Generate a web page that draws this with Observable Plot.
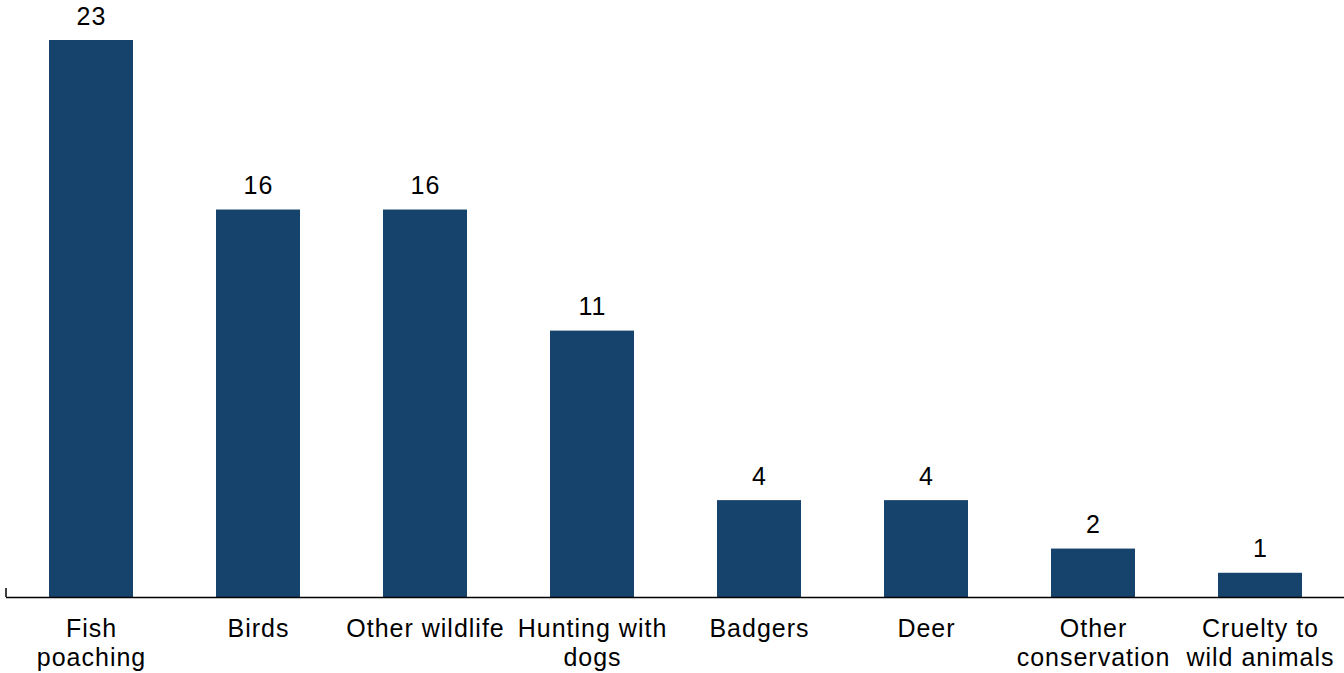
<!DOCTYPE html>
<html>
<head>
<meta charset="utf-8">
<script src="https://cdn.jsdelivr.net/npm/d3@7"></script>
<script src="https://cdn.jsdelivr.net/npm/@observablehq/plot@0.6"></script>
<style>
  html, body { margin: 0; padding: 0; background: #fff; }
  svg { display: block; }
  svg text { letter-spacing: 1px; }
</style>
</head>
<body>
<div id="chart"></div>
<script>
const categories = ["Fish poaching", "Birds", "Other wildlife", "Hunting with dogs", "Badgers", "Deer", "Other conservation", "Cruelty to wild animals"];
const tickLabels = ["Fish\npoaching", "Birds", "Other wildlife", "Hunting with\ndogs", "Badgers", "Deer", "Other\nconservation", "Cruelty to\nwild animals"];
const values = [23, 16, 16, 11, 4, 4, 2, 1];

const data = categories.map((c, i) => ({category: c, value: values[i], label: tickLabels[i]}));
const labelOf = new Map(data.map(d => [d.category, d.label]));

const plot = Plot.plot({
  width: 1344,
  height: 673,
  marginLeft: 6,
  marginRight: 0,
  marginTop: 40,
  marginBottom: 76,
  style: {fontFamily: "'Liberation Sans', Arial, sans-serif", fontSize: "25px", color: "#000", background: "#fff"},
  x: {domain: categories, paddingInner: 0.5, paddingOuter: 0.25, label: null},
  y: {domain: [0, 23], axis: null},
  marks: [
    Plot.barY(data, {x: "category", y: "value", fill: "#16436b"}),
    Plot.ruleY([0], {stroke: "#000", strokeWidth: 1.5}),
    Plot.text(data, {x: "category", y: "value", text: d => String(d.value), lineAnchor: "bottom", dy: -16, fontSize: 25, fill: "#000"}),
    Plot.axisX({tickSize: 0, tickPadding: 19, tickFormat: d => labelOf.get(d), fontSize: 25, lineHeight: 1.16, label: null})
  ]
});
document.getElementById("chart").appendChild(plot);

// left end tick of the axis line
const y0 = plot.scale("y").apply(0);
d3.select(plot).append("line")
  .attr("x1", 6).attr("x2", 6)
  .attr("y1", y0 - 9).attr("y2", y0)
  .attr("stroke", "#000").attr("stroke-width", 1.5);
</script>
</body>
</html>
